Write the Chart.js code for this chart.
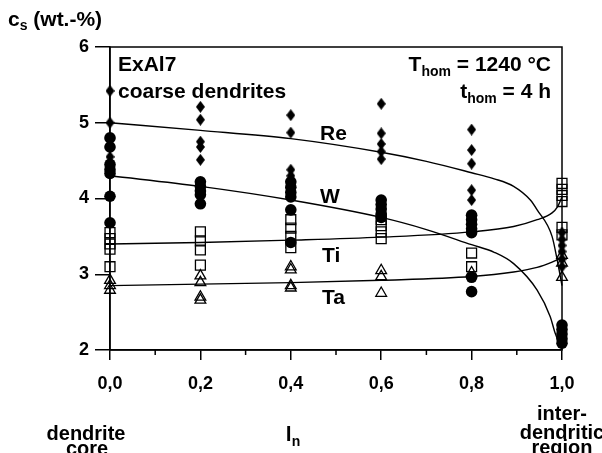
<!DOCTYPE html>
<html>
<head>
<meta charset="utf-8">
<script src="https://cdn.jsdelivr.net/npm/chart.js@4/dist/chart.umd.min.js"></script>
<style>
  html, body { margin: 0; padding: 0; background: #ffffff; }
  #wrap { width: 602px; height: 453px; position: relative; }
</style>
</head>
<body>
<div id="wrap"><canvas id="c" width="602" height="453"></canvas></div>
<script>
// ---------- data ----------
const positions = [0.0, 0.2, 0.4, 0.6, 0.8, 1.0];

// measured concentrations at each position (wt.-%)
const reValues = [
  [5.42, 5.00, 4.55],
  [5.21, 5.04, 4.75, 4.68, 4.51],
  [5.10, 4.87, 4.38, 4.30],
  [5.25, 4.86, 4.72, 4.62, 4.52],
  [4.91, 4.64, 4.46, 4.11, 3.98],
  [3.55, 3.46, 3.38, 3.30, 3.20, 3.10]
];
const wValues = [
  [4.80, 4.68, 4.45, 4.38, 4.33, 4.03, 3.68],
  [4.22, 4.16, 4.10, 4.05, 3.93],
  [4.22, 4.15, 4.08, 4.02, 3.85, 3.42],
  [3.98, 3.92, 3.86, 3.80, 3.75],
  [3.78, 3.72, 3.66, 3.60, 3.55, 2.96, 2.77],
  [2.33, 2.27, 2.21, 2.15, 2.09]
];
const tiValues = [
  [3.55, 3.47, 3.40, 3.33, 3.10],
  [3.56, 3.44, 3.32, 3.12],
  [3.72, 3.61, 3.50, 3.35],
  [3.72, 3.64, 3.56, 3.47],
  [3.28, 3.10],
  [4.20, 4.12, 4.04, 3.96, 3.62, 3.52]
];
const taValues = [
  [2.92, 2.85, 2.79],
  [2.98, 2.89, 2.70, 2.66],
  [3.10, 3.06, 2.85, 2.82],
  [3.05, 2.97, 2.75],
  [3.02],
  [3.25, 3.15, 2.96]
];

// fitted curves
const reCurveX = [0, 0.2, 0.4, 0.6, 0.7, 0.8, 0.85, 0.893, 0.93, 0.945, 0.978, 0.989, 1.0];
const reCurveY = [5.00, 4.90, 4.79, 4.61, 4.49, 4.34, 4.26, 4.16, 3.98, 3.85, 3.50, 3.20, 2.85];
const wCurveX  = [0, 0.2, 0.4, 0.6, 0.7, 0.8, 0.85, 0.893, 0.945, 0.974, 0.985, 1.0];
const wCurveY  = [4.30, 4.16, 3.98, 3.75, 3.59, 3.39, 3.29, 3.14, 2.79, 2.44, 2.22, 2.00];
const tiCurveX = [0, 0.2, 0.4, 0.6, 0.8, 0.893, 0.945, 0.978, 0.99, 1.0];
const tiCurveY = [3.40, 3.42, 3.45, 3.49, 3.56, 3.63, 3.72, 3.81, 3.89, 4.02];
const taCurveX = [0, 0.2, 0.4, 0.6, 0.8, 0.893, 0.945, 0.978, 1.0];
const taCurveY = [2.85, 2.87, 2.89, 2.92, 2.97, 3.03, 3.09, 3.16, 3.22];

// axis ticks
const xTickValues = [0, 0.2, 0.4, 0.6, 0.8, 1.0];
const xMinorTicks = [0.1, 0.3, 0.5, 0.7, 0.9];
const yTickValues = [2, 3, 4, 5, 6];

// ---------- helpers ----------
const FONT = '"Liberation Sans", Arial, Helvetica, sans-serif';

function toPoints(values) {
  const pts = [];
  values.forEach((col, i) => col.forEach(v => pts.push({ x: positions[i], y: v })));
  return pts;
}
function toCurve(xs, ys) {
  return xs.map((x, i) => ({ x: x, y: ys[i] }));
}

// diamond marker (taller than wide)
const diamond = document.createElement('canvas');
diamond.width = 9; diamond.height = 12;
(function () {
  const g = diamond.getContext('2d');
  g.fillStyle = '#000';
  g.beginPath();
  g.moveTo(4.5, 0); g.lineTo(9, 6); g.lineTo(4.5, 12); g.lineTo(0, 6);
  g.closePath(); g.fill();
})();

function drawParts(ctx, parts, x, baseline, align) {
  let total = 0;
  parts.forEach(p => {
    ctx.font = 'bold ' + p.size + 'px ' + FONT;
    p.w = ctx.measureText(p.t).width;
    total += p.w;
  });
  let cx = align === 'right' ? x - total : (align === 'center' ? x - total / 2 : x);
  parts.forEach(p => {
    ctx.font = 'bold ' + p.size + 'px ' + FONT;
    ctx.fillText(p.t, cx, baseline + (p.dy || 0));
    cx += p.w;
  });
}

const framePlugin = {
  id: 'frame',
  afterDraw(chart) {
    const ctx = chart.ctx;
    const a = chart.chartArea;
    const xs = chart.scales.x;
    ctx.save();
    ctx.strokeStyle = '#000';
    ctx.lineWidth = 1.5;
    ctx.strokeRect(a.left, a.top, a.right - a.left, a.bottom - a.top);
    // minor x ticks
    ctx.beginPath();
    xMinorTicks.forEach(v => {
      const px = xs.getPixelForValue(v);
      ctx.moveTo(px, a.bottom);
      ctx.lineTo(px, a.bottom + 5);
    });
    ctx.stroke();

    ctx.fillStyle = '#000';
    ctx.textAlign = 'left';
    ctx.textBaseline = 'alphabetic';
    // y axis title
    drawParts(ctx, [{ t: 'c', size: 21 }, { t: 's', size: 14, dy: 4 }, { t: ' (wt.-%)', size: 21 }], 8, 26, 'left');
    // labels inside plot
    drawParts(ctx, [{ t: 'ExAl7', size: 21 }], 118, 71, 'left');
    drawParts(ctx, [{ t: 'coarse dendrites', size: 21 }], 118, 98, 'left');
    drawParts(ctx, [{ t: 'T', size: 21 }, { t: 'hom', size: 14, dy: 5 }, { t: ' = 1240 °C', size: 21 }], 551, 71, 'right');
    drawParts(ctx, [{ t: 't', size: 21 }, { t: 'hom', size: 14, dy: 5 }, { t: ' = 4 h', size: 21 }], 551, 98, 'right');
    drawParts(ctx, [{ t: 'Re', size: 21 }], 320, 140, 'left');
    drawParts(ctx, [{ t: 'W', size: 21 }], 320, 203, 'left');
    drawParts(ctx, [{ t: 'Ti', size: 21 }], 322, 262, 'left');
    drawParts(ctx, [{ t: 'Ta', size: 21 }], 322, 304, 'left');
    // labels below the axis
    drawParts(ctx, [{ t: 'dendrite', size: 20 }], 86, 440, 'center');
    drawParts(ctx, [{ t: 'core', size: 20 }], 87, 455, 'center');
    drawParts(ctx, [{ t: 'l', size: 21 }, { t: 'n', size: 14, dy: 5 }], 293, 441, 'center');
    drawParts(ctx, [{ t: 'inter-', size: 20 }], 562, 420, 'center');
    drawParts(ctx, [{ t: 'dendritic', size: 20 }], 562, 439, 'center');
    drawParts(ctx, [{ t: 'region', size: 20 }], 562, 454, 'center');
    ctx.restore();
  }
};

const curveStyle = {
  showLine: true, borderColor: '#000', borderWidth: 1.4, pointRadius: 0,
  cubicInterpolationMode: 'monotone', fill: false, clip: false, order: 2
};

new Chart(document.getElementById('c'), {
  type: 'scatter',
  data: {
    datasets: [
      Object.assign({ label: 'Re fit', data: toCurve(reCurveX, reCurveY) }, curveStyle),
      Object.assign({ label: 'W fit', data: toCurve(wCurveX, wCurveY) }, curveStyle),
      Object.assign({ label: 'Ti fit', data: toCurve(tiCurveX, tiCurveY) }, curveStyle),
      Object.assign({ label: 'Ta fit', data: toCurve(taCurveX, taCurveY) }, curveStyle),
      { label: 'Re', data: toPoints(reValues), pointStyle: diamond, pointRadius: 6,
        backgroundColor: '#000', borderColor: '#000', clip: false, order: 1 },
      { label: 'W', data: toPoints(wValues), pointStyle: 'circle', pointRadius: 5.8,
        backgroundColor: '#000', borderColor: '#000', borderWidth: 0, clip: false, order: 1 },
      { label: 'Ti', data: toPoints(tiValues), pointStyle: 'rect', pointRadius: 7,
        backgroundColor: 'rgba(0,0,0,0)', borderColor: '#000', borderWidth: 1.3, clip: false, order: 1 },
      { label: 'Ta', data: toPoints(taValues), pointStyle: 'triangle', pointRadius: 6.2,
        backgroundColor: 'rgba(0,0,0,0)', borderColor: '#000', borderWidth: 1.3, clip: false, order: 1 }
    ]
  },
  options: {
    responsive: false,
    animation: false,
    devicePixelRatio: 1,
    layout: { padding: { top: 47, right: 40, left: 0, bottom: 0 } },
    plugins: { legend: { display: false }, tooltip: { enabled: false } },
    scales: {
      x: {
        type: 'linear', min: 0, max: 1,
        afterBuildTicks: s => { s.ticks = xTickValues.map(v => ({ value: v })); },
        afterFit: s => { s.height = 103; },
        ticks: {
          callback: v => Number(v).toFixed(1).replace('.', ','),
          color: '#000', font: { family: FONT, size: 18, weight: 'bold' }, padding: 13,
          maxRotation: 0, autoSkip: false
        },
        grid: { drawOnChartArea: false, drawTicks: true, tickLength: 10, color: '#000', lineWidth: 1.5 },
        border: { display: true, color: '#000', width: 1.5 }
      },
      y: {
        type: 'linear', min: 2, max: 6,
        afterBuildTicks: s => { s.ticks = yTickValues.map(v => ({ value: v })); },
        afterFit: s => { s.width = 110; },
        ticks: {
          color: '#000', font: { family: FONT, size: 18, weight: 'bold' }, padding: 6
        },
        grid: { drawOnChartArea: false, drawTicks: true, tickLength: 15, color: '#000', lineWidth: 1.5 },
        border: { display: true, color: '#000', width: 1.5 }
      }
    }
  },
  plugins: [framePlugin]
});
</script>
</body>
</html>
